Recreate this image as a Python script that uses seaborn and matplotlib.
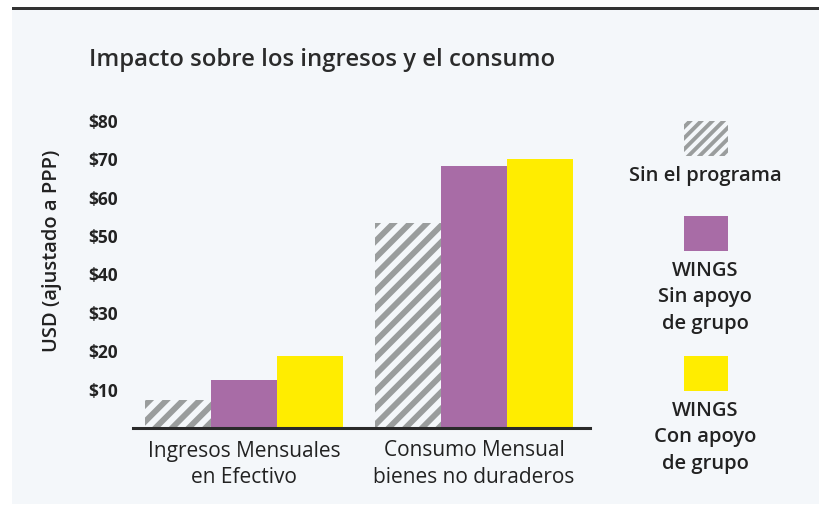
import matplotlib
matplotlib.use("Agg")

import pandas as pd
import matplotlib.pyplot as plt
import seaborn as sns
from matplotlib.patches import Rectangle
from matplotlib import font_manager

# data
categories = ["Ingresos Mensuales\nen Efectivo", "Consumo Mensual\nbienes no duraderos"]
series = ["Sin el programa", "WINGS\nSin apoyo\nde grupo", "WINGS\nCon apoyo\nde grupo"]
sin_programa = [7.3, 53.3]
sin_apoyo = [12.5, 68.4]
con_apoyo = [18.8, 70.0]
y_ticks = [10, 20, 30, 40, 50, 60, 70, 80]
y_tick_labels = ["$10", "$20", "$30", "$40", "$50", "$60", "$70", "$80"]

BG = "#f4f7fa"
GRAY = "#9a9d9d"
PURPLE = "#a86ca6"
YELLOW = "#ffed00"
TEXT = "#222222"


def pick_family():
    # first family that really ships a bold face
    for fam in ["Noto Sans", "Open Sans", "Lato", "Roboto", "DejaVu Sans"]:
        try:
            path = font_manager.findfont(
                font_manager.FontProperties(family=fam, weight="bold"),
                fallback_to_default=False,
            )
        except Exception:
            continue
        if "bold" in path.lower():
            return fam
    return "DejaVu Sans"


FAMILY = pick_family()

sns.set_theme(style="white")
plt.rcParams["font.family"] = [FAMILY, "DejaVu Sans"]
plt.rcParams["hatch.linewidth"] = 4.2

df = pd.DataFrame({
    "categoria": categories * 3,
    "serie": [s for s in series for _ in categories],
    "valor": sin_programa + sin_apoyo + con_apoyo,
})

fig = plt.figure(figsize=(8.2, 5.07), dpi=100, facecolor="white")

# panel background and top rule
fig.patches.append(Rectangle((12 / 820, 0.005), 1, 1 - 7 / 507 - 0.005,
                             transform=fig.transFigure, facecolor=BG,
                             edgecolor="none", zorder=-10))
fig.patches.append(Rectangle((12 / 820, 1 - 10 / 507), 1, 3 / 507,
                             transform=fig.transFigure, facecolor="#333333",
                             edgecolor="none", zorder=-9))

ax = fig.add_axes([133 / 820, 1 - 428 / 507, 457 / 820, 307 / 507])
ax.set_facecolor("none")

palette = {series[0]: BG, series[1]: PURPLE, series[2]: YELLOW}

sns.barplot(
    data=df,
    x="categoria",
    y="valor",
    hue="serie",
    hue_order=series,
    order=categories,
    palette=palette,
    width=0.86,
    gap=0,
    saturation=1,
    legend=False,
    ax=ax,
)

for bar in ax.containers[0]:
    bar.set_hatch("//")
    bar.set_edgecolor(GRAY)
    bar.set_linewidth(0)
for cont in ax.containers[1:]:
    for bar in cont:
        bar.set_linewidth(0)

ax.set_xlim(-0.483, 1.504)
ax.set_ylim(0, 80)
ax.set_yticks(y_ticks)
ax.set_yticklabels(y_tick_labels, fontsize=12.5, fontweight="bold", color=TEXT)
ax.tick_params(axis="y", length=0, pad=11)
ax.tick_params(axis="x", length=0, pad=9, labelsize=15, labelcolor=TEXT)
for lbl in ax.get_xticklabels():
    lbl.set_linespacing(1.35)

ax.set_xlabel("")
ax.set_ylabel("")

sns.despine(ax=ax, left=True, top=True, right=True)
ax.spines["bottom"].set_color("#2a2a2a")
ax.spines["bottom"].set_linewidth(2.2)

fig.text(52 / 820, 1 - 251 / 507, "USD (ajustado a PPP)", rotation=90,
         ha="center", va="center", fontsize=14.5, fontweight="semibold",
         color=TEXT)

fig.text(89 / 820, 1 - 60 / 507, "Impacto sobre los ingresos y el consumo",
         fontsize=17.2, fontweight="semibold", color="#2b2b2b", va="center")

# legend on the right: swatch with label underneath
leg = fig.add_axes([0, 0, 1, 1])
leg.set_xlim(0, 820)
leg.set_ylim(507, 0)
leg.axis("off")
swatch_tops = [121, 216, 356]
swatch_colors = [BG, PURPLE, YELLOW]
for i, name in enumerate(series):
    rect = Rectangle((684, swatch_tops[i]), 44, 35, facecolor=swatch_colors[i],
                     edgecolor="none", linewidth=0)
    if i == 0:
        rect.set_hatch("///")
        rect.set_edgecolor(GRAY)
        if hasattr(rect, "set_hatch_linewidth"):
            rect.set_hatch_linewidth(2.8)
    leg.add_patch(rect)
    leg.text(705, swatch_tops[i] + 45, name, ha="center", va="top",
             fontsize=14.5, fontweight="semibold", color=TEXT, linespacing=1.42)

fig.savefig("out.png", dpi=100, facecolor="white")
